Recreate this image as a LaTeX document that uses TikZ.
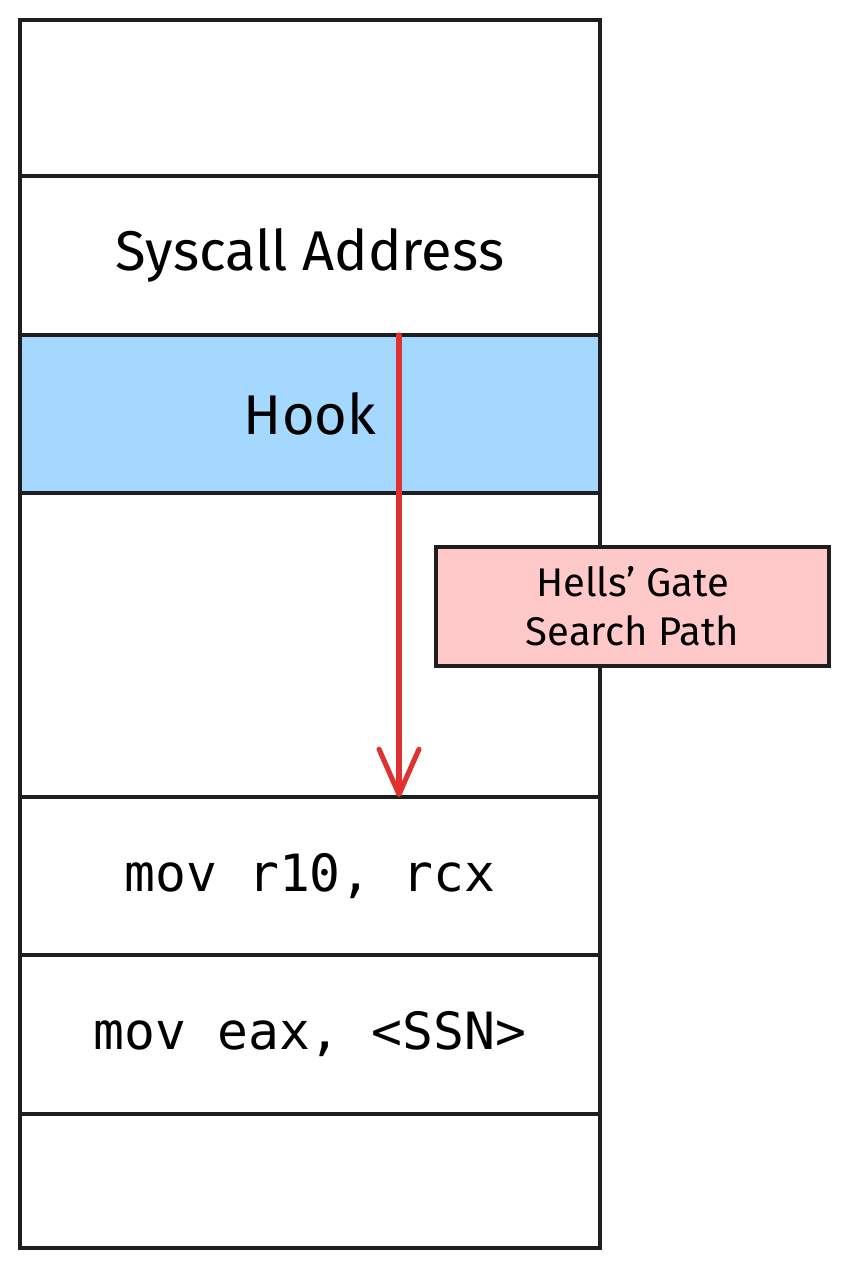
\documentclass[tikz,border=0pt]{standalone}
\usepackage{fontspec}
\setmainfont{Fira Sans}
\setmonofont{DejaVu Sans Mono}
\usetikzlibrary{arrows.meta}

\definecolor{ink}{HTML}{1E1E1E}
\definecolor{hookblue}{HTML}{A5D8FF}
\definecolor{gatepink}{HTML}{FFC9C9}
\definecolor{pathred}{HTML}{E03131}

\begin{document}
\begin{tikzpicture}[x=0.75pt, y=-0.75pt,
    cell/.style={draw=ink, line width=2.8pt, minimum width=435pt, inner sep=0pt, outer sep=0pt},
    handtext/.style={font=\fontsize{42}{50}\selectfont},
    codetext/.style={font=\ttfamily\fontsize{38.5}{46}\selectfont},
    gatebox/.style={draw=ink, fill=gatepink, line width=2.8pt, minimum width=294.75pt, minimum height=89.25pt,
        align=center, font=\fontsize{30}{37}\selectfont},
    searchline/.style={draw=pathred, line width=3.8pt, line cap=round, -{Straight Barb[length=34pt, width=30pt, round]}}]
    \useasboundingbox (0,0) rectangle (849,1268);

    % 栈中各行（自上而下）
    \node[cell, minimum height=117pt] (blanktop) at (310,98) {};
    \node[cell, minimum height=119.25pt, handtext] (sysaddr) at (310,255.5) {Syscall Address};
    \node[cell, minimum height=118.5pt, fill=hookblue, handtext] (hook) at (310,414) {Hook};
    \node[cell, minimum height=228pt] (gap) at (310,645) {};
    \node[cell, minimum height=118.5pt, codetext] (movr) at (310,876) {mov r10, rcx};
    \node[cell, minimum height=119.25pt, codetext] (move) at (310,1034.5) {mov eax, <SSN>};
    \node[cell, minimum height=100.5pt] (blankbot) at (310,1181) {};

    % 搜索路径（红色箭头）
    \coordinate (probe) at (399,0);
    \draw[searchline] (hook.north -| probe) -- (movr.north -| probe);

    % 标注
    \node[gatebox] (gate) at (632.5,606.5) {Hells' Gate\\Search Path};
\end{tikzpicture}
\end{document}
